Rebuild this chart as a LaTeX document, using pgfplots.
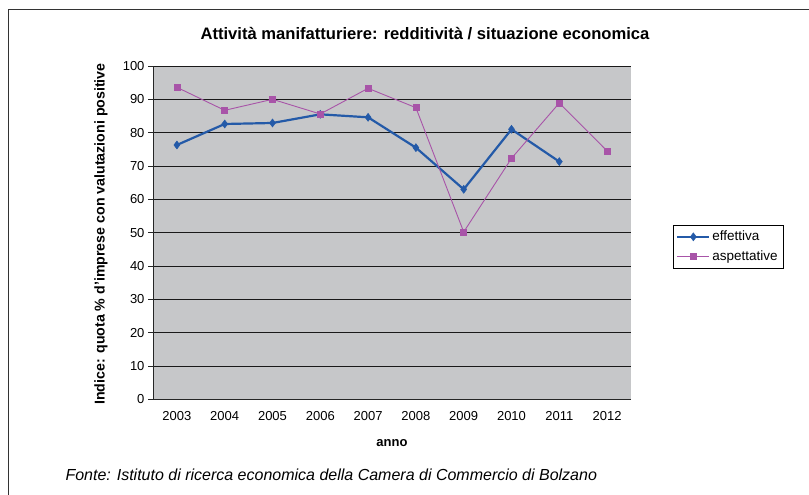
\documentclass[border=0pt]{standalone}
\usepackage{pgfplots}
\pgfplotsset{compat=1.18}
\usepackage{fontspec}
\setmainfont{Liberation Sans}
\definecolor{effblue}{RGB}{36,90,168}
\definecolor{aspmag}{RGB}{168,84,168}
\definecolor{plotbg}{RGB}{198,199,201}
\begin{document}
\begin{tikzpicture}
\useasboundingbox (0pt,0pt) rectangle (809pt,495pt);
\fill[white] (0pt,0pt) rectangle (809pt,495pt);
\draw[line width=1.2pt, black!80] (8.5pt,-10pt) rectangle (830pt,485.5pt);
\begin{axis}[
  at={(153pt,95.7pt)}, anchor=south west,
  scale only axis, width=478pt, height=333.3pt,
  xmin=-0.5, xmax=9.5, ymin=0, ymax=100,
  axis background/.style={fill=plotbg},
  axis x line*=bottom, axis y line*=left,
  axis line style={black!85, line width=0.9pt},
  xtick={0,...,9},
  xticklabels={2003,2004,2005,2006,2007,2008,2009,2010,2011,2012},
  x tick style={draw=none},
  minor xtick={-0.5,0.5,...,9.5},
  minor x tick style={black!85, line width=0.8pt},
  minor tick length=5pt,
  ytick={0,10,...,100},
  y tick style={black!85, line width=0.8pt},
  major tick length=5pt,
  tick align=outside,
  ymajorgrids,
  major grid style={black!90, line width=0.8pt},
  tick label style={font=\fontsize{13}{15}\selectfont},
  /pgf/number format/assume math mode=true,
  xticklabel style={yshift=-4pt},
  legend style={at={(1.088,0.523)}, anchor=north west, draw=black, fill=white,
    font=\fontsize{13.5}{16}\selectfont, row sep=4pt, inner sep=3pt, inner ysep=4pt},
  legend cell align=left,
  legend image code/.code={\draw[mark repeat=2,mark phase=2] plot coordinates {(0pt,0pt)(16pt,0pt)(32pt,0pt)};},
]
\addplot[effblue, line width=2.2pt, mark=diamond*, mark size=4pt, mark options={solid, line width=0.5pt}]
  coordinates {(0,76.3)(1,82.6)(2,82.9)(3,85.5)(4,84.6)(5,75.5)(6,63.0)(7,81.0)(8,71.3)};
\addlegendentry{effettiva}
\addplot[aspmag, line width=0.9pt, mark=square*, mark size=3pt, mark options={solid, line width=0.5pt}]
  coordinates {(0,93.6)(1,86.7)(2,90.0)(3,85.6)(4,93.3)(5,87.5)(6,50.2)(7,72.3)(8,88.9)(9,74.5)};
\addlegendentry{aspettative}
\end{axis}
\node[font=\fontsize{16.6}{19}\selectfont\bfseries] at (425pt,461pt) {Attività manifatturiere: redditività / situazione economica};
\node[font=\fontsize{14.2}{16}\selectfont\bfseries, rotate=90] at (101pt,261pt) {Indice: quota \% d'imprese con valutazioni positive};
\node[font=\fontsize{13}{15}\selectfont\bfseries] at (392pt,52pt) {anno};
\node[font=\fontsize{16}{18}\selectfont\itshape, anchor=west] at (62pt,20pt) {Fonte: Istituto di ricerca economica della Camera di Commercio di Bolzano};
\end{tikzpicture}
\end{document}
